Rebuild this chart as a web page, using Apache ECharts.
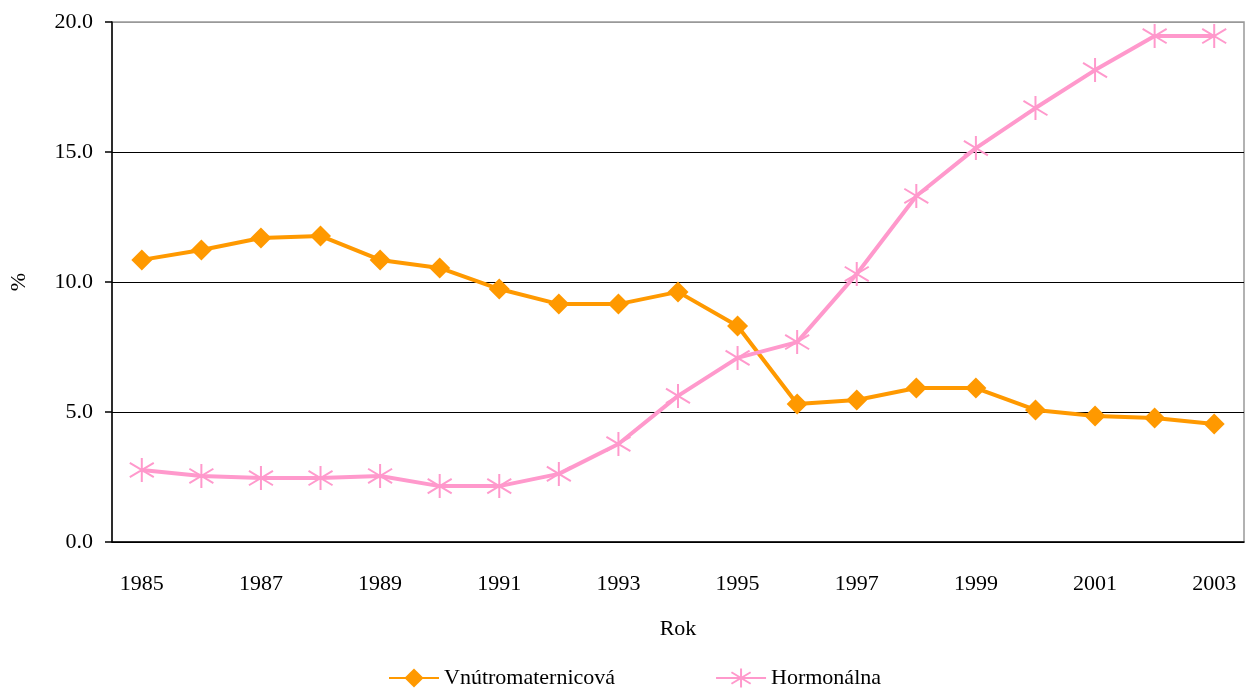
<!DOCTYPE html>
<html>
<head>
<meta charset="utf-8">
<script src="https://cdn.jsdelivr.net/npm/echarts@6/dist/echarts.min.js"></script>
<style>
  html,body{margin:0;padding:0;background:#fff;}
  .main{width:1249px;height:689px;}
</style>
</head>
<body>
<div class="main" id="main"></div>
<script>
var years = ['1985','1986','1987','1988','1989','1990','1991','1992','1993','1994',
             '1995','1996','1997','1998','1999','2000','2001','2002','2003'];
var iud = [10.85, 11.23, 11.69, 11.77, 10.85, 10.54, 9.73, 9.15, 9.15, 9.62,
           8.31, 5.31, 5.46, 5.92, 5.92, 5.08, 4.85, 4.77, 4.54];
var hormonal = [2.77, 2.54, 2.46, 2.46, 2.54, 2.15, 2.15, 2.62, 3.77, 5.62,
                7.08, 7.69, 10.31, 13.31, 15.15, 16.69, 18.15, 19.46, 19.46];

var font = 'Liberation Serif, Times New Roman, serif';
var star = 'path://M0,-10L0,10M-9,-6L9,6M-9,6L9,-6';

var myChart = echarts.init(document.getElementById('main'));

var option = {
  animation: false,
  textStyle: { fontFamily: font, color: '#000' },
  grid: { left: 112, right: 5, top: 22, bottom: 147, containLabel: false,
          outerBoundsMode: 'none',
          show: true, borderColor: '#999', borderWidth: 1.5 },
  legend: {
    top: 662,
    left: 383,
    itemWidth: 50,
    itemHeight: 24,
    itemGap: 100,
    textStyle: { fontFamily: font, fontSize: 22, color: '#000' },
    data: ['Vnútromaternicová', 'Hormonálna']
  },
  xAxis: {
    type: 'category',
    data: years,
    name: 'Rok',
    nameLocation: 'middle',
    nameGap: 76,
    nameTextStyle: { fontFamily: font, fontSize: 22, color: '#000' },
    boundaryGap: true,
    axisLine: { lineStyle: { color: '#000', width: 1.5 } },
    axisTick: { interval: 0, length: 7, lineStyle: { color: '#000', width: 1.5 } },
    axisLabel: { interval: 1, margin: 31, fontFamily: font, fontSize: 22, color: '#000' },
    splitLine: { show: false }
  },
  yAxis: {
    type: 'value',
    min: 0,
    max: 20,
    interval: 5,
    name: '%',
    nameLocation: 'middle',
    nameRotate: 90,
    nameGap: 82,
    nameTextStyle: { fontFamily: font, fontSize: 22, color: '#000' },
    axisLine: { show: true, lineStyle: { color: '#000', width: 1.5 } },
    axisTick: { show: true, length: 7, lineStyle: { color: '#000', width: 1.5 } },
    axisLabel: { margin: 19, fontFamily: font, fontSize: 22, color: '#000',
                 formatter: function (v) { return v.toFixed(1); } },
    splitLine: { lineStyle: { color: ['#000', '#000', '#000', '#000', '#999'], width: 1 } }
  },
  series: [{
    name: 'Vnútromaternicová',
    type: 'line',
    data: iud,
    symbol: 'diamond',
    symbolSize: 21,
    itemStyle: { color: '#FF9900' },
    lineStyle: { color: '#FF9900', width: 4 },
    z: 2
  }, {
    name: 'Hormonálna',
    type: 'line',
    data: hormonal,
    symbol: star,
    symbolSize: 24,
    itemStyle: { color: '#FF99CC', borderColor: '#FF99CC', borderWidth: 2 },
    lineStyle: { color: '#FF99CC', width: 4 },
    z: 3
  }]
};

myChart.setOption(option);
</script>
</body>
</html>
